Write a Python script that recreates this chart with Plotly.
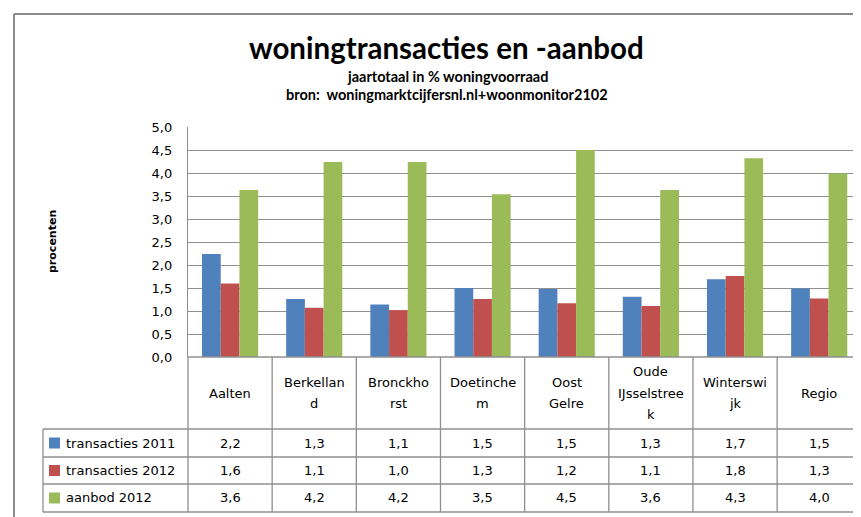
import plotly.graph_objects as go

# ---------------- data ----------------
categories = ["Aalten", "Berkelland", "Bronckhorst", "Doetinchem",
              "Oost Gelre", "Oude IJsselstreek", "Winterswijk", "Regio"]
header_labels = [["Aalten"], ["Berkellan", "d"], ["Bronckho", "rst"], ["Doetinche", "m"],
                 ["Oost", "Gelre"], ["Oude", "IJsselstree", "k"], ["Winterswi", "jk"], ["Regio"]]
series_names = ["transacties 2011", "transacties 2012", "aanbod 2012"]
transacties_2011 = [2.24, 1.26, 1.14, 1.50, 1.48, 1.31, 1.69, 1.49]
transacties_2012 = [1.60, 1.07, 1.02, 1.26, 1.17, 1.11, 1.76, 1.27]
aanbod_2012 = [3.63, 4.24, 4.24, 3.54, 4.50, 3.63, 4.32, 3.99]
y_ticks = [0.0, 0.5, 1.0, 1.5, 2.0, 2.5, 3.0, 3.5, 4.0, 4.5, 5.0]

title_text = "woningtransacties en -aanbod"
subtitle_1 = "jaartotaal in % woningvoorraad"
subtitle_2 = "bron:  woningmarktcijfersnl.nl+woonmonitor2102"
y_title = "procenten"

colors = ["#4F81BD", "#C0504D", "#9BBB59"]
series_values = [transacties_2011, transacties_2012, aanbod_2012]

# ---------------- layout helpers ----------------
W, H = 861, 517
OFF = 8  # page body margin: screen position = figure position + 8
def px(x):
    return (x - OFF) / W
def py(y):
    return 1 - (y - OFF) / H

PLOT_LEFT, PLOT_RIGHT, PLOT_TOP, PLOT_BOTTOM = 188, 861.3, 127, 357
HEADER_BOTTOM = 429
ROW_EDGES = [429, 457, 484, 512]
TABLE_LEFT = 43
GRID = "#8f8f8f"
FONT = "DejaVu Sans"

xs = list(range(len(categories)))

fig = go.Figure()
for name, vals, col in zip(series_names, series_values, colors):
    fig.add_trace(go.Bar(x=xs, y=vals, name=name, marker=dict(color=col, line=dict(width=0)),
                         hoverinfo="y+name"))

shapes = []
def line(x0, y0, x1, y1, xref="paper", color=GRID, width=1.3):
    shapes.append(dict(type="line", xref=xref, yref="paper", x0=x0, y0=y0, x1=x1, y1=y1,
                       line=dict(color=color, width=width), layer="above"))

# outer chart frame (left & top visible)
line(px(14), py(14), px(14), py(530), color="#8a8a8a", width=2)
line(px(14), py(14), px(870), py(14), color="#8a8a8a", width=2)

# data table lines
line(px(PLOT_LEFT), py(PLOT_BOTTOM), px(PLOT_RIGHT), py(PLOT_BOTTOM))
for yy in ROW_EDGES:
    line(px(TABLE_LEFT), py(yy), px(PLOT_RIGHT), py(yy))
line(px(TABLE_LEFT), py(ROW_EDGES[0]), px(TABLE_LEFT), py(ROW_EDGES[-1]))
line(px(PLOT_LEFT), py(PLOT_BOTTOM), px(PLOT_LEFT), py(ROW_EDGES[-1]))
for i in range(len(categories) - 1):
    line(i + 0.5, py(PLOT_BOTTOM), i + 0.5, py(ROW_EDGES[-1]), xref="x")

annotations = []
# title block
annotations.append(dict(text="<b>" + title_text + "</b>", x=px(446), y=py(48), xref="paper", yref="paper",
                        showarrow=False, xanchor="center", yanchor="middle",
                        font=dict(family="Lato", size=29.5, color="black")))
annotations.append(dict(text="<b>" + subtitle_1 + "</b>", x=px(447), y=py(77), xref="paper", yref="paper",
                        showarrow=False, xanchor="center", yanchor="middle",
                        font=dict(family="Lato", size=14.5, color="black")))
annotations.append(dict(text="<b>" + subtitle_2 + "</b>", x=px(447), y=py(95), xref="paper", yref="paper",
                        showarrow=False, xanchor="center", yanchor="middle",
                        font=dict(family="Lato", size=14.5, color="black")))
# y-axis title
annotations.append(dict(text="<b>" + y_title + "</b>", x=px(52), y=py(242), xref="paper", yref="paper",
                        showarrow=False, textangle=-90, xanchor="center", yanchor="middle",
                        font=dict(family=FONT, size=11, color="black")))

# category header (wrapped lines)
header_mid = (PLOT_BOTTOM + HEADER_BOTTOM) / 2
LINE_STEP = 21.5
for i, lines in enumerate(header_labels):
    n = len(lines)
    for k, t in enumerate(lines):
        yy = header_mid + (k - (n - 1) / 2) * LINE_STEP
        annotations.append(dict(text=t, x=i, y=py(yy), xref="x", yref="paper", showarrow=False,
                                xanchor="center", yanchor="middle",
                                font=dict(family=FONT, size=13, color="black")))

# rows: legend key, name, values
for j, (name, vals, col) in enumerate(zip(series_names, series_values, colors)):
    yc = (ROW_EDGES[j] + ROW_EDGES[j + 1]) / 2
    shapes.append(dict(type="rect", xref="paper", yref="paper",
                       x0=px(49), x1=px(60), y0=py(yc + 5.5), y1=py(yc - 5.5),
                       fillcolor=col, line=dict(width=0)))
    annotations.append(dict(text=name, x=px(64), y=py(yc), xref="paper", yref="paper", showarrow=False,
                            xanchor="left", yanchor="middle",
                            font=dict(family=FONT, size=13, color="black")))
    for i, v in enumerate(vals):
        annotations.append(dict(text=f"{v:.1f}".replace(".", ","), x=i, y=py(yc), xref="x", yref="paper",
                                showarrow=False, xanchor="center", yanchor="middle",
                                font=dict(family=FONT, size=13, color="black")))

fig.update_layout(
    width=W, height=H,
    margin=dict(l=0, r=0, t=0, b=0, autoexpand=False),
    paper_bgcolor="white", plot_bgcolor="white",
    separators=",.",
    barmode="group", bargap=0.333, bargroupgap=0,
    showlegend=False,
    shapes=shapes, annotations=annotations,
    xaxis=dict(domain=[px(PLOT_LEFT), px(PLOT_RIGHT)], range=[-0.5, 7.5], showticklabels=False,
               showgrid=False, zeroline=False, showline=False, fixedrange=True, automargin=False),
    yaxis=dict(domain=[py(PLOT_BOTTOM), py(PLOT_TOP)], range=[0, 5], tickvals=y_ticks,
               tickformat=".1f", showgrid=True, gridcolor=GRID, gridwidth=1.3,
               zeroline=False, showline=True, linecolor=GRID, linewidth=1.3,
               ticks="", ticklabelstandoff=12, automargin=False,
               tickfont=dict(family=FONT, size=13, color="black"), fixedrange=True),
)

fig.write_html("out.html")
